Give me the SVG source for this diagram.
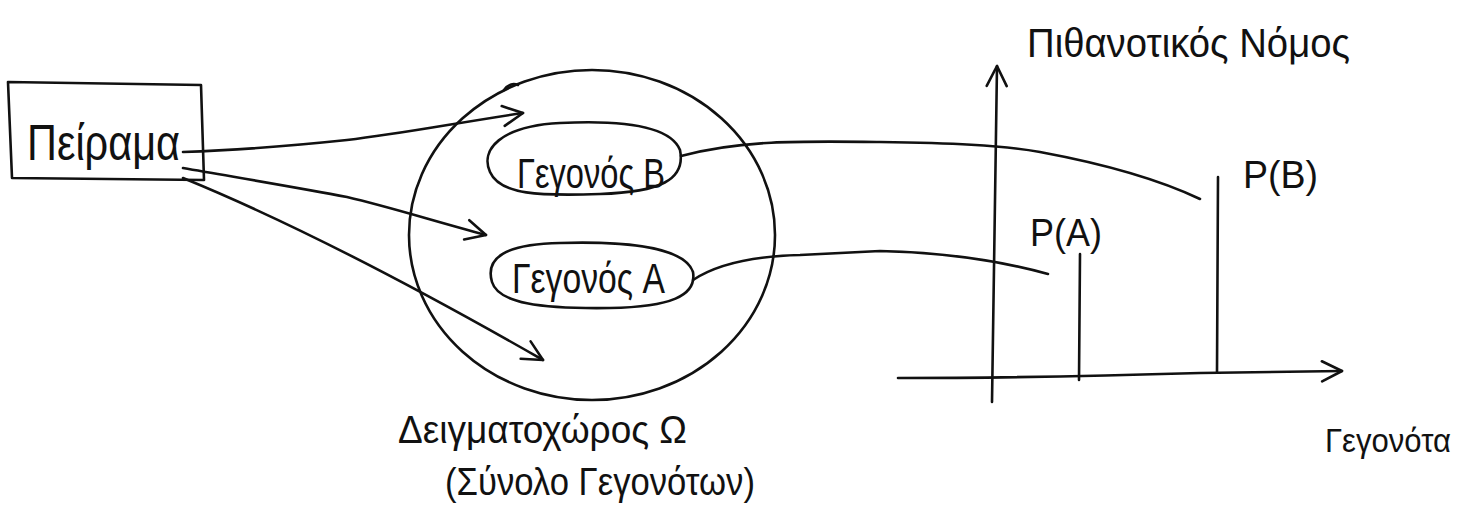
<svg xmlns="http://www.w3.org/2000/svg" width="1473" height="516" viewBox="0 0 1473 516">
<defs>
<style>
.ln{fill:none;stroke:#111;stroke-width:2.6;stroke-linecap:round;stroke-linejoin:round}
.tx{font-family:"Liberation Sans","Noto Sans",sans-serif;fill:#111}
</style>
<marker id="chev" viewBox="0 0 24 24" refX="22" refY="12" markerWidth="24" markerHeight="24" markerUnits="userSpaceOnUse" orient="auto">
<path d="M2,2 L22,12 L2,22" fill="none" stroke="#111" stroke-width="2.6" stroke-linecap="round" stroke-linejoin="round"/>
</marker>
</defs>
<rect width="1473" height="516" fill="#fff"/>

<g id="node-experiment">
<path class="ln" d="M8,82 L201,85 L204,180 L12,178 Z"/>
<text class="tx" x="27" y="160" font-size="50" textLength="153" lengthAdjust="spacingAndGlyphs">Πείραμα</text>
</g>

<g id="node-sample-space">
<ellipse class="ln" cx="592" cy="235" rx="183" ry="165"/>
<path class="ln" d="M504,90 Q510,82 518,85"/>
<text class="tx" x="398" y="443" font-size="38" textLength="289" lengthAdjust="spacingAndGlyphs">Δειγματοχώρος Ω</text>
<text class="tx" x="445" y="495" font-size="38" textLength="310" lengthAdjust="spacingAndGlyphs">(Σύνολο Γεγονότων)</text>
</g>

<g id="node-event-b">
<path class="ln" d="M490,172 C480,150 500,126 560,123 C620,120 670,125 680,150 C686,180 660,192 600,194 C540,196 500,195 490,172 Z"/>
<text class="tx" x="517" y="188" font-size="42" textLength="148" lengthAdjust="spacingAndGlyphs">Γεγονός B</text>
</g>

<g id="node-event-a">
<path class="ln" d="M492,282 C485,258 505,244 560,243 C630,241 685,248 693,272 C697,296 670,307 610,308 C540,309 498,303 492,282 Z"/>
<text class="tx" x="512" y="293" font-size="42" textLength="153" lengthAdjust="spacingAndGlyphs">Γεγονός A</text>
</g>

<g id="node-distribution">
<text class="tx" x="1027" y="57" font-size="40" textLength="323" lengthAdjust="spacingAndGlyphs">Πιθανοτικός Νόμος</text>
<text class="tx" x="1325" y="452" font-size="33" textLength="126" lengthAdjust="spacingAndGlyphs">Γεγονότα</text>
<path class="ln" d="M1080,254 L1079,380"/>
<path class="ln" d="M1218,177 L1217,372"/>
<text class="tx" x="1030" y="246" font-size="38" textLength="72" lengthAdjust="spacingAndGlyphs">P(A)</text>
<text class="tx" x="1243" y="188" font-size="38" textLength="75" lengthAdjust="spacingAndGlyphs">P(B)</text>
</g>

<g id="connectors">
<path class="ln" d="M183,152 C240,150 290,146 347,140 C400,134 450,124 523,113" marker-end="url(#chev)"/>
<path class="ln" d="M183,168 C240,178 300,188 347,197 C390,207 430,220 486,235" marker-end="url(#chev)"/>
<path class="ln" d="M183,178 Q330,238 543,360" marker-end="url(#chev)"/>
<path class="ln" d="M681,156 C740,140 800,141 880,142 C950,143 1000,145 1040,152 C1110,165 1160,180 1200,199"/>
<path class="ln" d="M693,280 C720,262 760,256 800,255 L880,251 C930,252 990,258 1048,274"/>
<path class="ln" d="M992,402 L997,66" marker-end="url(#chev)"/>
<path class="ln" d="M898,378 C1000,378 1100,376 1200,373 L1342,371" marker-end="url(#chev)"/>
</g>
</svg>
